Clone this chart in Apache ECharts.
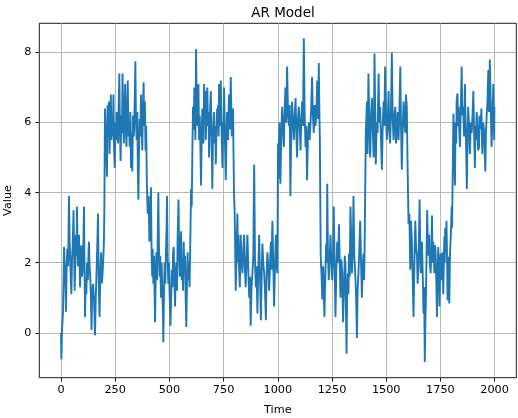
<!DOCTYPE html>
<html>
<head>
<meta charset="utf-8">
<script src="https://cdn.jsdelivr.net/npm/echarts@6/dist/echarts.min.js"></script>
<style>
html,body{margin:0;padding:0;background:#fff;}
#chart{width:518px;height:418px;}
</style>
</head>
<body>
<div id="chart"></div>
<script>
// [time, value] readings, one array per regime of the AR series
const regimeLow1 = [[0,0.0],[2,-0.75],[5,0.1],[9,0.55],[12,1.6],[14,2.45],[17,2.0],[20,1.5],[23,0.6],[26,1.8],[29,2.4],[33,1.9],[37,3.9],[40,2.6],[43,2.0],[46,1.4],[48,1.1],[51,2.1],[54,2.5],[58,3.5],[61,2.2],[63,1.2],[66,2.0],[69,2.8],[72,2.2],[74,3.6],[76,2.6],[78,1.9],[81,2.3],[83,2.8],[86,1.9],[88,1.3],[91,2.1],[94,2.5],[97,1.6],[100,1.8],[103,2.4],[106,3.6],[108,2.2],[111,0.45],[114,1.5],[117,1.1],[120,2.0],[124,1.5],[127,2.3],[129,2.6],[132,1.9],[135,1.6],[138,1.0],[141,0.08],[144,1.2],[148,1.4],[152,1.0],[154,0.6],[157,-0.07],[160,0.9],[163,1.5],[167,2.4],[171,3.4],[173,2.0],[175,1.2],[178,0.45],[181,1.6],[185,2.3],[188,1.4],[191,1.6],[195,2.1],[198,2.6],[200,3.5]];
const regimeHigh1 = [[203,6.4],[206,5.8],[209,5.2],[212,4.45],[215,6.5],[218,5.6],[221,6.6],[224,5.1],[227,5.9],[230,6.8],[233,5.5],[236,6.2],[239,5.6],[242,6.8],[245,5.2],[248,4.7],[251,6.0],[254,5.5],[257,6.3],[260,5.8],[263,5.4],[266,6.5],[269,7.4],[272,5.8],[275,4.9],[278,6.2],[281,5.7],[284,7.4],[287,6.0],[290,5.4],[293,6.4],[296,7.1],[299,5.9],[302,5.3],[305,6.2],[308,7.2],[311,5.6],[314,6.0],[317,5.3],[320,6.3],[323,4.7],[326,5.7],[329,4.6],[332,6.2],[336,5.6],[340,6.6],[343,7.75],[346,6.0],[349,5.5],[352,6.3],[355,4.4],[357,3.8],[360,5.3],[363,6.1],[366,5.6],[369,6.8],[372,5.8],[375,5.2],[378,6.4],[381,7.15],[384,5.9],[387,6.6],[390,5.2],[393,5.9],[396,4.3],[400,3.4],[404,3.9],[408,2.6],[412,3.0],[415,4.15],[418,2.2]];
const regimeLow2 = [[421,1.6],[423,2.4],[426,1.4],[429,2.2],[432,1.0],[434,0.3],[437,1.7],[440,2.3],[443,1.5],[446,2.6],[449,4.0],[452,2.4],[455,1.6],[458,2.2],[461,1.0],[464,2.0],[467,1.3],[470,0.6],[472,-0.27],[475,1.1],[478,2.0],[481,1.4],[484,2.3],[487,3.0],[489,3.9],[492,2.2],[495,1.4],[498,2.0],[501,1.1],[505,0.2],[508,1.0],[511,1.8],[514,1.3],[517,2.3],[520,2.45],[523,1.5],[526,0.75],[529,1.6],[532,2.0],[535,1.2],[538,2.7],[542,3.8],[545,2.2],[548,1.6],[551,2.4],[554,2.9],[557,1.5],[560,2.1],[563,1.2],[566,2.6],[569,1.8],[572,2.2],[575,1.0],[578,0.17],[581,1.4],[584,2.3],[587,1.5],[590,2.0],[593,1.3],[596,2.4],[600,4.1]];
const regimeHigh2 = [[603,3.6],[606,5.2],[609,6.45],[612,5.8],[615,7.0],[618,6.2],[620,5.5],[623,8.1],[626,6.6],[629,5.9],[631,6.35],[634,7.1],[637,5.5],[640,6.2],[643,5.3],[646,4.2],[649,5.6],[652,6.4],[654,6.1],[657,5.4],[660,7.1],[663,6.1],[666,6.9],[668,5.5],[671,6.2],[675,7.0],[678,5.9],[681,6.3],[683,5.0],[686,5.9],[688,6.4],[691,6.9],[694,5.7],[696,5.1],[698,4.1],[701,5.6],[704,6.1],[706,6.3],[709,5.4],[712,5.9],[714,4.8],[717,5.7],[720,6.4],[722,5.9],[725,6.5],[727,5.6],[729,7.1],[732,6.2],[735,5.9],[737,7.2],[740,6.1],[742,5.4],[745,4.7],[748,6.0],[750,5.6],[752,7.0],[755,6.0],[757,5.2],[760,4.35],[763,5.5],[766,6.3],[768,6.0],[771,5.5],[773,6.3],[775,6.8],[778,5.8],[781,6.5],[783,7.3],[786,6.2],[788,5.6],[791,5.8],[794,6.4],[795,5.5],[798,4.0],[801,3.45],[803,2.6]];
const regimeLow3 = [[806,1.2],[810,2.4],[814,3.4],[816,2.0],[818,2.8],[821,1.9],[825,1.3],[827,2.2],[829,2.8],[833,2.0],[837,1.7],[841,2.4],[845,2.8],[848,1.9],[852,1.3],[856,2.1],[860,2.8],[864,1.8],[868,1.0],[872,1.6],[875,0.2],[879,1.3],[883,1.7],[887,2.2],[891,4.8],[895,2.0],[899,1.3],[902,1.9],[906,0.55],[910,1.8],[914,2.8],[918,1.6],[922,0.36],[925,1.4],[929,2.55],[933,2.0],[937,1.7],[941,1.2],[945,0.36],[948,1.6],[952,2.3],[956,1.9],[960,1.2],[964,1.9],[968,2.6],[971,1.8],[975,3.2],[979,2.0],[983,0.75],[987,1.9],[991,2.8],[994,2.0],[998,1.7]];
const regimeHigh3 = [[1001,5.4],[1003,4.4],[1005,5.4],[1008,6.0],[1012,4.25],[1016,5.6],[1020,6.45],[1024,5.8],[1028,5.3],[1031,6.2],[1035,7.0],[1039,6.0],[1043,7.6],[1047,6.3],[1051,5.9],[1055,6.5],[1058,3.9],[1062,5.7],[1066,6.6],[1070,6.0],[1074,5.5],[1078,6.2],[1082,6.7],[1085,5.8],[1089,5.0],[1093,6.1],[1097,6.45],[1101,5.9],[1105,5.2],[1108,6.0],[1112,6.6],[1116,5.9],[1120,8.4],[1124,6.2],[1128,5.3],[1131,5.9],[1135,4.35],[1139,5.6],[1143,6.0],[1147,5.5],[1151,6.0],[1154,6.4],[1158,7.3],[1162,6.2],[1166,5.7],[1170,6.5],[1174,5.9],[1178,6.3],[1182,7.2],[1186,6.1],[1189,7.7],[1192,6.2],[1194,5.5],[1196,3.8],[1198,2.2],[1202,1.6],[1205,0.95]];
const regimeLow4 = [[1209,1.9],[1212,1.2],[1215,0.45],[1219,1.6],[1223,2.55],[1226,2.0],[1228,4.25],[1231,2.4],[1235,1.5],[1239,2.1],[1243,2.8],[1247,2.0],[1251,1.5],[1255,2.3],[1258,3.6],[1262,1.9],[1266,0.45],[1270,1.8],[1274,2.6],[1278,2.0],[1282,3.1],[1286,1.9],[1289,1.0],[1293,2.1],[1297,1.7],[1301,0.3],[1305,1.2],[1309,2.2],[1312,1.9],[1317,-0.6],[1320,1.2],[1323,1.7],[1326,1.1],[1328,2.26],[1332,1.6],[1335,3.6],[1339,2.6],[1342,1.7],[1346,2.4],[1349,3.9],[1353,2.2],[1357,1.7],[1361,1.1],[1365,-0.15],[1368,1.2],[1372,1.7],[1376,2.4],[1380,3.2],[1384,2.0],[1388,1.0],[1391,1.8],[1395,2.26],[1398,1.5],[1400,2.2],[1403,4.0],[1406,5.7]];
const regimeHigh4 = [[1411,6.6],[1414,5.1],[1418,7.4],[1422,6.0],[1426,5.0],[1430,6.2],[1434,6.7],[1438,5.8],[1442,5.0],[1446,7.97],[1449,6.4],[1452,4.8],[1456,6.0],[1460,5.7],[1465,7.4],[1468,6.0],[1472,6.45],[1476,5.5],[1480,4.65],[1484,5.9],[1488,6.6],[1491,5.9],[1495,7.6],[1499,6.2],[1503,5.5],[1507,6.1],[1511,6.9],[1514,5.8],[1518,5.4],[1522,6.3],[1526,8.0],[1530,6.1],[1534,5.5],[1538,6.2],[1542,6.45],[1545,5.4],[1549,5.7],[1553,6.3],[1557,5.5],[1561,6.4],[1565,7.6],[1568,6.0],[1572,4.65],[1576,5.8],[1580,6.6],[1584,6.0],[1588,5.7],[1591,6.8],[1595,6.45],[1598,5.0],[1603,3.1],[1607,3.4]];
const regimeLow5 = [[1611,1.8],[1614,3.2],[1618,2.7],[1622,1.6],[1626,0.45],[1630,2.0],[1634,3.2],[1638,2.4],[1642,2.2],[1645,1.4],[1649,1.9],[1654,3.8],[1657,2.5],[1660,1.7],[1663,2.2],[1665,2.6],[1669,1.5],[1672,0.55],[1675,1.3],[1678,-0.83],[1681,0.4],[1683,0.95],[1686,2.2],[1689,3.5],[1692,2.5],[1694,2.2],[1698,2.8],[1701,2.0],[1705,1.7],[1708,2.3],[1711,3.35],[1714,2.0],[1717,2.6],[1720,2.1],[1722,1.7],[1725,2.5],[1728,2.26],[1731,1.5],[1734,0.45],[1737,1.6],[1740,2.45],[1743,1.8],[1746,0.75],[1749,1.9],[1751,2.26],[1754,1.5],[1757,1.7],[1760,2.3],[1763,1.1],[1766,2.0],[1768,2.74],[1770,2.0],[1772,3.0],[1775,2.3],[1778,3.2],[1781,2.0],[1783,0.93],[1786,1.8],[1788,2.17],[1791,0.84],[1794,2.2],[1798,2.8],[1802,3.6],[1804,3.0],[1806,4.2]];
const regimeHigh5 = [[1810,6.25],[1814,5.0],[1817,4.2],[1820,6.0],[1823,5.4],[1825,6.64],[1829,6.83],[1831,5.9],[1834,6.45],[1837,5.8],[1840,5.3],[1844,6.4],[1848,7.6],[1851,6.2],[1855,6.45],[1859,5.6],[1863,7.1],[1866,6.0],[1868,5.5],[1872,4.1],[1875,5.6],[1878,6.45],[1882,5.9],[1886,5.1],[1890,6.0],[1894,5.7],[1898,6.2],[1902,6.9],[1905,5.8],[1909,4.7],[1912,5.9],[1914,5.5],[1917,6.3],[1920,6.1],[1924,5.2],[1928,5.3],[1931,6.2],[1935,5.8],[1939,6.4],[1943,5.1],[1947,6.0],[1951,5.8],[1954,5.2],[1957,4.6],[1960,5.7],[1963,6.16],[1967,6.6],[1971,7.5],[1974,6.3],[1978,7.8],[1982,6.5],[1986,5.3],[1990,6.2],[1994,7.1],[1996,6.2],[1998,5.5],[1999,6.45]];

const xTicks = [0, 250, 500, 750, 1000, 1250, 1500, 1750, 2000];
const yTicks = [0, 2, 4, 6, 8];

const seriesData = [].concat(regimeLow1, regimeHigh1, regimeLow2, regimeHigh2, regimeLow3,
  regimeHigh3, regimeLow4, regimeHigh4, regimeLow5, regimeHigh5);

const FONT = 'DejaVu Sans';
const chart = echarts.init(document.getElementById('chart'), null, {renderer: 'canvas'});
chart.setOption({
  animation: false,
  backgroundColor: '#ffffff',
  title: {
    text: 'AR Model',
    left: 278,
    top: 1,
    textAlign: 'center',
    textStyle: {fontFamily: FONT, fontSize: 13.5, fontWeight: 'normal', color: '#000'}
  },
  grid: {
    left: 39.3, top: 23.3, right: 1.7, bottom: 40.3,
    show: true, borderColor: '#000', borderWidth: 0.9, backgroundColor: 'transparent',
    containLabel: false,
    outerBoundsMode: 'none'
  },
  xAxis: {
    type: 'value', min: -100, max: 2100,
    name: 'Time', nameLocation: 'middle', nameGap: 27,
    nameTextStyle: {fontFamily: FONT, fontSize: 11.25, color: '#000'},
    axisLine: {show: false, onZero: false},
    axisTick: {show: true, length: 4, inside: false, customValues: xTicks, lineStyle: {color: '#000', width: 0.9}},
    axisLabel: {customValues: xTicks, margin: 7, fontFamily: FONT, fontSize: 11.25, color: '#000',
      formatter: function (v) { return String(v); }},
    splitLine: {show: true, lineStyle: {color: '#b0b0b0', width: 0.9}}
  },
  yAxis: {
    type: 'value', min: -1.28, max: 8.83,
    name: 'Value', nameLocation: 'middle', nameGap: 26,
    nameTextStyle: {fontFamily: FONT, fontSize: 11.25, color: '#000'},
    axisLine: {show: false, onZero: false},
    axisTick: {show: true, length: 4, inside: false, customValues: yTicks, lineStyle: {color: '#000', width: 0.9}},
    axisLabel: {customValues: yTicks, margin: 8, fontFamily: FONT, fontSize: 11.25, color: '#000',
      formatter: function (v) { return String(v); }},
    splitLine: {show: true, lineStyle: {color: '#b0b0b0', width: 0.9}}
  },
  series: [{
    type: 'line',
    data: seriesData,
    showSymbol: false,
    symbol: 'none',
    sampling: null,
    lineStyle: {color: '#1f77b4', width: 1.9},
    itemStyle: {color: '#1f77b4'}
  }]
});
</script>
</body>
</html>
